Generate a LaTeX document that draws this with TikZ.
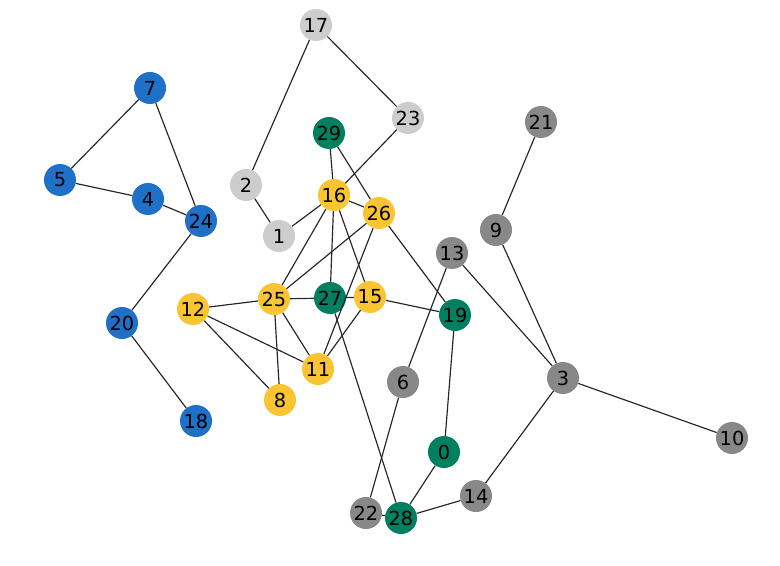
\documentclass[tikz,border=0pt]{standalone}
\usepackage{fontspec}
\setmainfont{DejaVu Sans}

\definecolor{nblue}{RGB}{31,112,199}
\definecolor{nyellow}{RGB}{250,196,50}
\definecolor{ngreen}{RGB}{0,128,96}
\definecolor{ngray}{RGB}{136,136,136}
\definecolor{nlight}{RGB}{205,205,205}

\tikzset{
  vtx/.style={circle, minimum size=0.96cm, inner sep=0pt, font=\fontsize{16.5}{16.5}\selectfont},
  blu/.style={vtx, fill=nblue},
  yel/.style={vtx, fill=nyellow},
  grn/.style={vtx, fill=ngreen},
  gry/.style={vtx, fill=ngray},
  lgt/.style={vtx, fill=nlight},
  edge/.style={draw=black!85, line width=1pt}
}

\begin{document}
\begin{tikzpicture}[x=0.03cm, y=-0.03cm]
    \useasboundingbox (0,0) rectangle (780,566);
    % nodes (pixel positions of the layout)
    \node[lgt] (n17) at (316,25) {17};
    \node[blu] (n7) at (150,88) {7};
    \node[lgt] (n23) at (408,118) {23};
    \node[grn] (n29) at (329,133) {29};
    \node[gry] (n21) at (541,122) {21};
    \node[blu] (n5) at (60,180) {5};
    \node[lgt] (n2) at (246,185) {2};
    \node[blu] (n4) at (148,199) {4};
    \node[yel] (n16) at (334,195) {16};
    \node[yel] (n26) at (379,213) {26};
    \node[blu] (n24) at (201,221) {24};
    \node[lgt] (n1) at (279,236) {1};
    \node[gry] (n9) at (496,230) {9};
    \node[gry] (n13) at (452,253) {13};
    \node[yel] (n12) at (193,309) {12};
    \node[yel] (n25) at (274,299) {25};
    \node[grn] (n27) at (330,298) {27};
    \node[yel] (n15) at (370,297) {15};
    \node[grn] (n19) at (455,315) {19};
    \node[blu] (n20) at (122,323) {20};
    \node[yel] (n11) at (318,369) {11};
    \node[gry] (n6) at (403,382) {6};
    \node[gry] (n3) at (563,378) {3};
    \node[yel] (n8) at (280,400) {8};
    \node[blu] (n18) at (196,421) {18};
    \node[gry] (n10) at (732,438) {10};
    \node[grn] (n0) at (444,452) {0};
    \node[gry] (n14) at (476,496) {14};
    \node[gry] (n22) at (366,513) {22};
    \node[grn] (n28) at (401,518) {28};

    % edges
    \foreach \a/\b in {17/2, 17/23, 7/5, 7/24, 5/4, 4/24, 24/20, 20/18, 2/1,
        23/16, 1/16, 29/16, 29/26, 16/26, 16/25, 16/27, 16/15,
        26/25, 26/11, 26/19, 12/25, 12/11, 12/8, 25/27, 25/11, 25/8,
        27/15, 15/11, 15/19, 27/28, 13/6, 13/3, 9/21, 9/3, 3/10, 3/14,
        14/28, 0/28, 0/19, 6/22, 22/28}
        \draw[edge] (n\a) -- (n\b);
\end{tikzpicture}
\end{document}
